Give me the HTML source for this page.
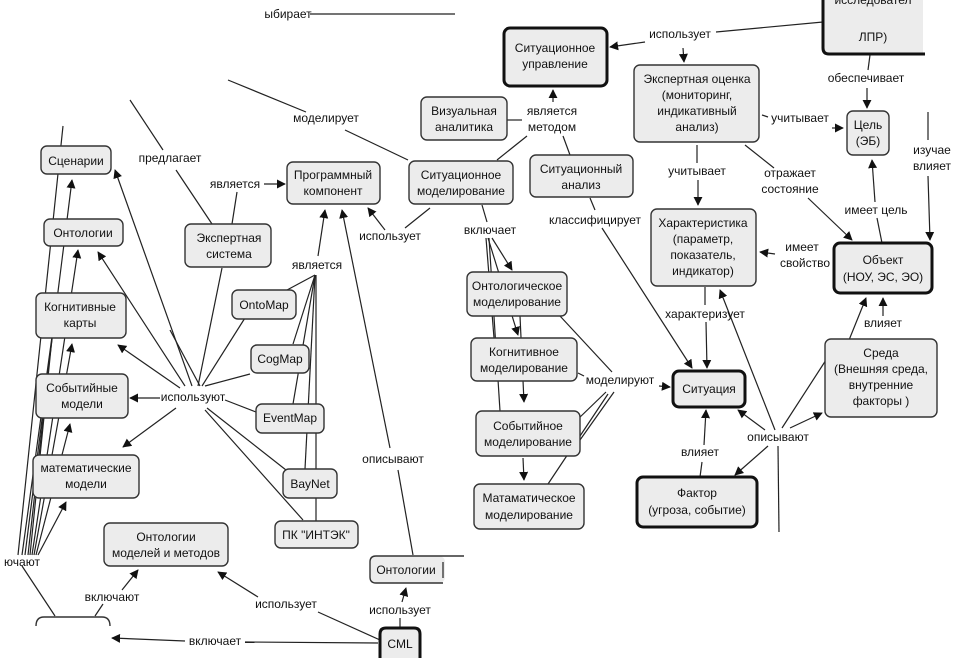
<!DOCTYPE html>
<html><head><meta charset="utf-8"><style>
html,body{margin:0;padding:0;background:#fff;}
svg{display:block;}
text{font-family:"Liberation Sans","DejaVu Sans",sans-serif;font-size:12px;fill:#111;text-anchor:middle;}
.n{fill:#ececec;stroke:#333;stroke-width:1.4;}
.b{fill:#ececec;stroke:#111;stroke-width:3;}
.f{fill:#ececec;stroke:none;}
.o{fill:none;stroke:#333;stroke-width:1.4;}
.ob{fill:none;stroke:#111;stroke-width:3;}
line,polyline{stroke:#222;stroke-width:1.2;fill:none;}
</style></head><body>
<svg width="956" height="658" viewBox="0 0 956 658" xmlns="http://www.w3.org/2000/svg">
<defs><marker id="a" viewBox="0 0 10 10" refX="9" refY="5" markerWidth="9" markerHeight="9" orient="auto" markerUnits="userSpaceOnUse"><path d="M0,0L10,5L0,10z" fill="#111"/></marker></defs>

<g>
<line x1="310" y1="14" x2="455" y2="14"/>
<line x1="18" y1="555" x2="63" y2="126"/>
<line x1="22" y1="555" x2="58" y2="293"/>
<line x1="25" y1="555" x2="72" y2="180" marker-end="url(#a)"/>
<line x1="28" y1="555" x2="48" y2="374"/>
<line x1="30" y1="555" x2="52" y2="338"/>
<line x1="32" y1="555" x2="78" y2="250" marker-end="url(#a)"/>
<line x1="34" y1="555" x2="72" y2="344" marker-end="url(#a)"/>
<line x1="36" y1="555" x2="70" y2="424" marker-end="url(#a)"/>
<line x1="38" y1="555" x2="66" y2="502" marker-end="url(#a)"/>
<line x1="22" y1="566" x2="55" y2="616"/>
<line x1="95" y1="616" x2="103" y2="604"/>
<line x1="122" y1="590" x2="138" y2="570" marker-end="url(#a)"/>
<line x1="380" y1="640" x2="318" y2="612"/>
<line x1="258" y1="597" x2="218" y2="572" marker-end="url(#a)"/>
<line x1="378" y1="643" x2="245" y2="642"/>
<line x1="185" y1="641" x2="112" y2="638" marker-end="url(#a)"/>
<line x1="400" y1="628" x2="400" y2="618"/>
<line x1="402" y1="602" x2="406" y2="588" marker-end="url(#a)"/>
<line x1="413" y1="555" x2="398" y2="470"/>
<line x1="390" y1="448" x2="342" y2="210" marker-end="url(#a)"/>
<line x1="160" y1="398" x2="130" y2="398" marker-end="url(#a)"/>
<line x1="176" y1="408" x2="123" y2="447" marker-end="url(#a)"/>
<line x1="180" y1="388" x2="118" y2="345" marker-end="url(#a)"/>
<line x1="185" y1="386" x2="98" y2="252" marker-end="url(#a)"/>
<line x1="192" y1="386" x2="115" y2="170" marker-end="url(#a)"/>
<line x1="198" y1="386" x2="222" y2="268"/>
<line x1="202" y1="386" x2="250" y2="310"/>
<line x1="200" y1="386" x2="170" y2="330"/>
<line x1="205" y1="386" x2="250" y2="374"/>
<line x1="225" y1="400" x2="256" y2="412"/>
<line x1="207" y1="408" x2="286" y2="470"/>
<line x1="205" y1="410" x2="303" y2="520"/>
<line x1="287" y1="290" x2="315" y2="275"/>
<line x1="293" y1="344" x2="315" y2="275"/>
<line x1="293" y1="404" x2="315" y2="275"/>
<line x1="305" y1="469" x2="315" y2="275"/>
<line x1="316" y1="521" x2="316" y2="275"/>
<line x1="318" y1="256" x2="325" y2="210" marker-end="url(#a)"/>
<line x1="232" y1="224" x2="237" y2="192"/>
<line x1="264" y1="184" x2="285" y2="184" marker-end="url(#a)"/>
<line x1="130" y1="100" x2="163" y2="150"/>
<line x1="176" y1="170" x2="212" y2="224"/>
<line x1="228" y1="80" x2="306" y2="112"/>
<line x1="345" y1="130" x2="408" y2="160"/>
<line x1="430" y1="208" x2="405" y2="228"/>
<line x1="385" y1="230" x2="368" y2="208" marker-end="url(#a)"/>
<line x1="507" y1="120" x2="522" y2="120"/>
<line x1="553" y1="102" x2="553" y2="90" marker-end="url(#a)"/>
<line x1="527" y1="136" x2="497" y2="160"/>
<line x1="563" y1="136" x2="570" y2="155"/>
<line x1="823" y1="22" x2="716" y2="32"/>
<line x1="645" y1="42" x2="610" y2="47" marker-end="url(#a)"/>
<line x1="683" y1="48" x2="684" y2="62" marker-end="url(#a)"/>
<line x1="870" y1="55" x2="868" y2="70"/>
<line x1="867" y1="88" x2="867" y2="108" marker-end="url(#a)"/>
<line x1="762" y1="115" x2="768" y2="117"/>
<line x1="832" y1="128" x2="843" y2="128" marker-end="url(#a)"/>
<line x1="928" y1="112" x2="928" y2="140"/>
<line x1="928" y1="176" x2="930" y2="240" marker-end="url(#a)"/>
<line x1="697" y1="145" x2="697" y2="163"/>
<line x1="698" y1="180" x2="698" y2="205" marker-end="url(#a)"/>
<line x1="745" y1="145" x2="774" y2="168"/>
<line x1="808" y1="198" x2="852" y2="240" marker-end="url(#a)"/>
<line x1="882" y1="243" x2="877" y2="218"/>
<line x1="875" y1="202" x2="872" y2="160" marker-end="url(#a)"/>
<line x1="775" y1="254" x2="760" y2="252" marker-end="url(#a)"/>
<line x1="590" y1="198" x2="595" y2="210"/>
<line x1="602" y1="228" x2="692" y2="368" marker-end="url(#a)"/>
<line x1="705" y1="287" x2="705" y2="305"/>
<line x1="706" y1="322" x2="707" y2="368" marker-end="url(#a)"/>
<line x1="775" y1="430" x2="720" y2="290" marker-end="url(#a)"/>
<line x1="883" y1="316" x2="883" y2="298" marker-end="url(#a)"/>
<line x1="845" y1="350" x2="866" y2="298" marker-end="url(#a)"/>
<line x1="765" y1="430" x2="738" y2="410" marker-end="url(#a)"/>
<line x1="790" y1="428" x2="822" y2="413" marker-end="url(#a)"/>
<line x1="768" y1="446" x2="735" y2="475" marker-end="url(#a)"/>
<line x1="782" y1="428" x2="826" y2="360"/>
<line x1="778" y1="446" x2="779" y2="532"/>
<line x1="700" y1="477" x2="702" y2="462"/>
<line x1="704" y1="445" x2="706" y2="410" marker-end="url(#a)"/>
<line x1="578" y1="373" x2="584" y2="376"/>
<line x1="659" y1="386" x2="670" y2="387" marker-end="url(#a)"/>
<line x1="577" y1="420" x2="606" y2="392"/>
<line x1="580" y1="440" x2="614" y2="392"/>
<line x1="548" y1="484" x2="608" y2="394"/>
<line x1="560" y1="316" x2="612" y2="372"/>
<line x1="482" y1="205" x2="487" y2="222"/>
<line x1="492" y1="238" x2="512" y2="270" marker-end="url(#a)"/>
<line x1="488" y1="238" x2="518" y2="335" marker-end="url(#a)"/>
<line x1="486" y1="238" x2="494" y2="338"/>
<line x1="489" y1="238" x2="500" y2="411"/>
<line x1="520" y1="316" x2="524" y2="402" marker-end="url(#a)"/>
<line x1="523" y1="458" x2="524" y2="480" marker-end="url(#a)"/>
</g>

<rect class="n" x="41" y="146" width="70" height="28" rx="6"/><text x="76" y="165">Сценарии</text>
<rect class="n" x="44" y="219" width="79" height="27" rx="6"/><text x="83" y="237">Онтологии</text>
<rect class="n" x="36" y="293" width="90" height="45" rx="6"/><text x="80" y="311">Когнитивные</text><text x="80" y="327">карты</text>
<rect class="n" x="36" y="374" width="92" height="44" rx="6"/><text x="82" y="392">Событийные</text><text x="82" y="408">модели</text>
<rect class="n" x="33" y="455" width="106" height="43" rx="6"/><text x="86" y="472">математические</text><text x="86" y="488">модели</text>
<rect class="n" x="104" y="523" width="124" height="43" rx="6"/><text x="166" y="541">Онтологии</text><text x="166" y="557">моделей и методов</text>
<path d="M36,626 Q36,617 44,617 L102,617 Q110,617 110,626" class="o"/>
<rect class="n" x="185" y="224" width="86" height="43" rx="6"/><text x="229" y="242">Экспертная</text><text x="229" y="258">система</text>
<rect class="n" x="287" y="162" width="93" height="42" rx="6"/><text x="333" y="179">Программный</text><text x="333" y="195">компонент</text>
<rect class="n" x="232" y="290" width="64" height="29" rx="6"/><text x="264" y="309">OntoMap</text>
<rect class="n" x="251" y="345" width="58" height="28" rx="6"/><text x="280" y="363">CogMap</text>
<rect class="n" x="256" y="404" width="68" height="29" rx="6"/><text x="290" y="422">EventMap</text>
<rect class="n" x="283" y="469" width="54" height="29" rx="6"/><text x="310" y="488">BayNet</text>
<rect class="n" x="275" y="521" width="83" height="27" rx="6"/><text x="316" y="539">ПК "ИНТЭК"</text>
<rect class="f" x="370" y="556" width="75" height="27" rx="6"/>
<path d="M464,556 L376,556 Q370,556 370,562 L370,577 Q370,583 376,583 L443,583" class="o"/><text x="406" y="574">Онтологии</text><line x1="443" y1="562" x2="443" y2="578"/>
<path d="M380,660 L380,634 Q380,628 386,628 L414,628 Q420,628 420,634 L420,660" class="b"/><text x="400" y="648">CML</text>
<rect class="f" x="823" y="-5" width="100" height="59"/>
<path d="M823,-5 L823,48 Q823,54 829,54 L925,54" class="ob"/><text x="873" y="4">исследовател</text><text x="873" y="41">ЛПР)</text>
<rect class="n" x="847" y="111" width="42" height="44" rx="6"/><text x="868" y="129">Цель</text><text x="868" y="145">(ЭБ)</text>
<rect class="n" x="651" y="209" width="105" height="77" rx="6"/><text x="703" y="227">Характеристика</text><text x="703" y="243">(параметр,</text><text x="703" y="259">показатель,</text><text x="703" y="275">индикатор)</text>
<rect class="b" x="834" y="243" width="98" height="50" rx="6"/><text x="883" y="264">Объект</text><text x="883" y="281">(НОУ, ЭС, ЭО)</text>
<rect class="n" x="467" y="272" width="100" height="44" rx="6"/><text x="517" y="290">Онтологическое</text><text x="517" y="306">моделирование</text>
<rect class="n" x="471" y="338" width="106" height="43" rx="6"/><text x="524" y="356">Когнитивное</text><text x="524" y="372">моделирование</text>
<rect class="n" x="476" y="411" width="104" height="45" rx="6"/><text x="528" y="430">Событийное</text><text x="528" y="446">моделирование</text>
<rect class="n" x="474" y="484" width="110" height="45" rx="6"/><text x="529" y="502">Матаматическое</text><text x="529" y="519">моделирование</text>
<rect class="b" x="673" y="371" width="72" height="36" rx="6"/><text x="709" y="393">Ситуация</text>
<rect class="b" x="637" y="477" width="120" height="50" rx="6"/><text x="697" y="497">Фактор</text><text x="697" y="514">(угроза, событие)</text>
<rect class="n" x="825" y="339" width="112" height="78" rx="6"/><text x="881" y="357">Среда</text><text x="881" y="373">(Внешняя среда,</text><text x="881" y="389">внутренние</text><text x="881" y="405">факторы )</text>
<rect class="b" x="504" y="28" width="103" height="58" rx="6"/><text x="555" y="52">Ситуационное</text><text x="555" y="68">управление</text>
<rect class="n" x="530" y="155" width="103" height="42" rx="6"/><text x="581" y="173">Ситуационный</text><text x="581" y="189">анализ</text>
<rect class="n" x="634" y="65" width="125" height="77" rx="6"/><text x="697" y="83">Экспертная оценка</text><text x="697" y="99">(мониторинг,</text><text x="697" y="115">индикативный</text><text x="697" y="131">анализ)</text>
<rect class="n" x="421" y="97" width="86" height="43" rx="6"/><text x="464" y="115">Визуальная</text><text x="464" y="131">аналитика</text>
<rect class="n" x="409" y="161" width="104" height="43" rx="6"/><text x="461" y="179">Ситуационное</text><text x="461" y="195">моделирование</text>

<text x="288" y="18">ыбирает</text>
<text x="22" y="566">ючают</text>
<text x="112" y="601">включают</text>
<text x="286" y="608">использует</text>
<text x="215" y="645">включает</text>
<text x="400" y="614">использует</text>
<text x="393" y="463">описывают</text>
<text x="193" y="401">используют</text>
<text x="317" y="269">является</text>
<text x="235" y="188">является</text>
<text x="170" y="162">предлагает</text>
<text x="326" y="122">моделирует</text>
<text x="390" y="240">использует</text>
<text x="552" y="115">является</text>
<text x="552" y="131">методом</text>
<text x="680" y="38">использует</text>
<text x="866" y="82">обеспечивает</text>
<text x="800" y="122">учитывает</text>
<text x="932" y="154">изучае</text>
<text x="932" y="170">влияет</text>
<text x="697" y="175">учитывает</text>
<text x="790" y="177">отражает</text>
<text x="790" y="193">состояние</text>
<text x="876" y="214">имеет цель</text>
<text x="802" y="251">имеет</text>
<text x="805" y="267">свойство</text>
<text x="595" y="224">классифицирует</text>
<text x="705" y="318">характеризует</text>
<text x="883" y="327">влияет</text>
<text x="778" y="441">описывают</text>
<text x="700" y="456">влияет</text>
<text x="620" y="384">моделируют</text>
<text x="490" y="234">включает</text>
</svg>
</body></html>
